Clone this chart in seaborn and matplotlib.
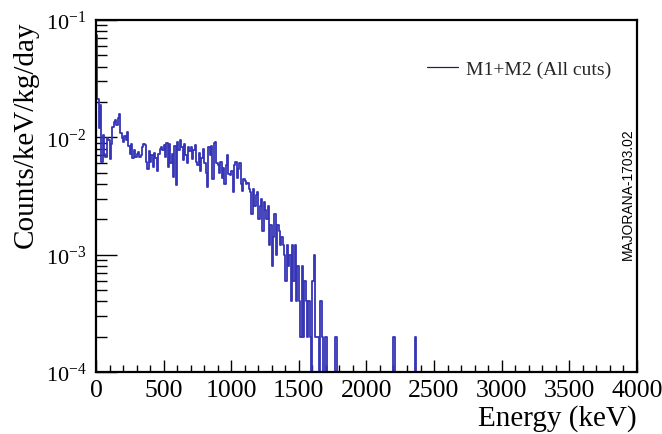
import numpy as np
import pandas as pd
import matplotlib
matplotlib.use("Agg")
import matplotlib.pyplot as plt
import seaborn as sns
from matplotlib.lines import Line2D
from matplotlib.ticker import MultipleLocator, LogLocator, NullFormatter

# ---- data: 10 keV bins, counts/keV/kg/day ----
bin_width = 10
rate_0_1800 = [
    # 0-100
    0.075, 0.021, 0.012, 0.019, 0.0062, 0.0105, 0.0072, 0.0068, 0.0098, 0.0095,
    # 100-200
    0.0065, 0.0088, 0.0122, 0.0135, 0.0140, 0.0128, 0.0145, 0.0158, 0.0108, 0.0098,
    # 200-300
    0.0092, 0.0102, 0.0094, 0.0110, 0.0085, 0.0072, 0.0088, 0.0066, 0.0078, 0.0068,
    # 300-400
    0.0072, 0.0075, 0.0068, 0.0070, 0.0082, 0.0088, 0.0086, 0.0062, 0.0054, 0.0076,
    # 400-500
    0.0062, 0.0070, 0.0056, 0.0074, 0.0066, 0.0052, 0.0072, 0.0080, 0.0082, 0.0078,
    # 500-600
    0.0086, 0.0068, 0.0090, 0.0056, 0.0088, 0.0060, 0.0072, 0.0046, 0.0085, 0.0039,
    # 600-700
    0.0092, 0.0078, 0.0095, 0.0082, 0.0064, 0.0088, 0.0070, 0.0060, 0.0083, 0.0076,
    # 700-800
    0.0082, 0.0065, 0.0078, 0.0086, 0.0062, 0.0058, 0.0074, 0.0052, 0.0066, 0.0080,
    # 800-900
    0.0060, 0.0050, 0.0038, 0.0082, 0.0070, 0.0084, 0.0044, 0.0090, 0.0092, 0.0060,
    # 900-1000
    0.0058, 0.0050, 0.0062, 0.0045, 0.0055, 0.0040, 0.0058, 0.0070, 0.0049, 0.0048,
    # 1000-1100
    0.0052, 0.0034, 0.0058, 0.0062, 0.0045, 0.0054, 0.0060, 0.0040, 0.0035, 0.0044,
    # 1100-1200
    0.0042, 0.0040, 0.0041, 0.0036, 0.0034, 0.0022, 0.0036, 0.0026, 0.0032, 0.0034,
    # 1200-1300
    0.0020, 0.0026, 0.0030, 0.0016, 0.0028, 0.0024, 0.0020, 0.0026, 0.0012, 0.0018,
    # 1300-1400
    0.0008, 0.0014, 0.0022, 0.0010, 0.0018, 0.0016, 0.0012, 0.0014, 0.0012, 0.0010,
    # 1400-1500
    0.0006, 0.0012, 0.0008, 0.0010, 0.0004, 0.0012, 0.0006, 0.0012, 0.0004, 0.0008,
    # 1500-1600
    0.0004, 0.0002, 0.0008, 0.0002, 0.0006, 0.0004, 0.0002, 0.0004, 0.0002, 0.0,
    # 1600-1700
    0.0006, 0.0010, 0.0002, 0.0002, 0.0002, 0.0, 0.0004, 0.0002, 0.0, 0.0002,
    # 1700-1800
    0.0002, 0.0, 0.0, 0.0, 0.0, 0.0, 0.0, 0.0002, 0.0, 0.0,
]
# isolated high-energy events (bin low edge keV, rate)
spike_edges = [2200, 2360]
spike_rates = [0.0002, 0.0002]

e_max = 4000
ymin, ymax = 1e-4, 1e-1
series_label = "M1+M2 (All cuts)"
line_color = "#3535b5"

# build full histogram table
n_bins = e_max // bin_width
rates = np.zeros(n_bins)
rates[:len(rate_0_1800)] = rate_0_1800
for e, r in zip(spike_edges, spike_rates):
    rates[e // bin_width] = r
# ROOT draws empty bins at the axis minimum
draw_rates = np.clip(rates, ymin, None)
centers = np.arange(n_bins) * bin_width + bin_width / 2
df = pd.DataFrame({"energy": centers, "rate": draw_rates})

# ---- styling ----
sns.set_theme(style="white")
plt.rcParams["font.family"] = ["Liberation Serif", "DejaVu Serif"]
plt.rcParams["mathtext.fontset"] = "stix"

fig = plt.figure(figsize=(6.62, 4.35), dpi=100)
ax = fig.add_axes([0.145, 0.1425, 0.817, 0.8095])

sns.histplot(data=df, x="energy", weights="rate", binwidth=bin_width,
             binrange=(0, e_max), element="step", fill=False,
             color=line_color, linewidth=1.3, ax=ax, legend=False)

ax.set_yscale("log")
ax.set_xlim(0, e_max)
ax.set_ylim(ymin, ymax)

for s in ax.spines.values():
    s.set_color("black")
    s.set_linewidth(1.6)

ax.xaxis.set_major_locator(MultipleLocator(500))
ax.xaxis.set_minor_locator(MultipleLocator(100))
ax.yaxis.set_major_locator(LogLocator(base=10, numticks=10))
ax.yaxis.set_minor_locator(LogLocator(base=10, subs=np.arange(2, 10), numticks=20))
ax.yaxis.set_minor_formatter(NullFormatter())
ax.tick_params(axis="both", which="both", direction="in", top=False, right=False,
               bottom=True, left=True, color="black", labelcolor="black")
ax.tick_params(axis="x", which="major", length=9, width=1, pad=5, labelsize=18.5)
ax.tick_params(axis="x", which="minor", length=5, width=1)
ax.tick_params(axis="y", which="major", length=15, width=1, pad=7, labelsize=16)
ax.tick_params(axis="y", which="minor", length=8, width=1)

ax.set_xlabel("Energy (keV)", fontsize=21, ha="right", x=1.0, color="black",
              labelpad=2)
ax.set_ylabel("Counts/keV/kg/day", fontsize=21, ha="right", y=1.0, color="black",
              labelpad=5)

handle = Line2D([], [], color="#202060", linewidth=0.9)
ax.legend([handle], [series_label], loc="upper right", frameon=False,
          fontsize=14, handlelength=1.6, handletextpad=0.4,
          bbox_to_anchor=(0.985, 0.935))

fig.text(0.949, 0.554, "MAJORANA-1703.02", rotation=90, ha="center", va="center",
         fontsize=10, family=["Liberation Sans", "DejaVu Sans"], color="black")

fig.savefig("out.png", dpi=100)
